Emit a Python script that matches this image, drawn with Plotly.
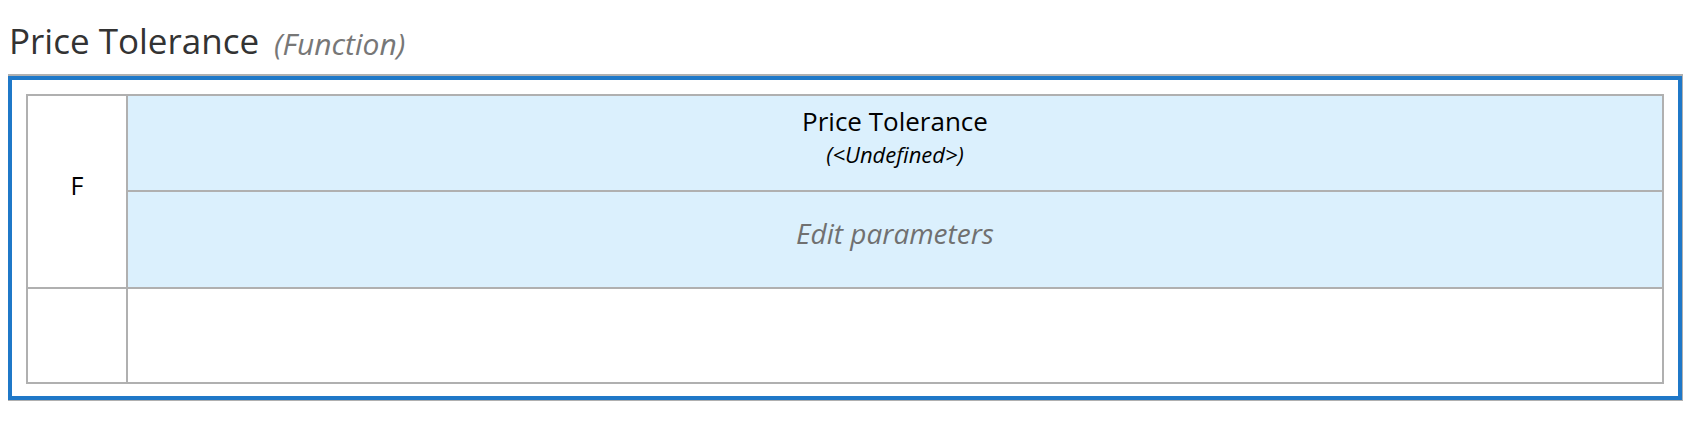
import plotly.graph_objects as go

W, H = 1706, 426

title_main = "Price Tolerance"
title_kind = "(Function)"
hit_policy = "F"
output_name = "Price Tolerance"
output_type = "(<Undefined>)"
param_label = "Edit parameters"

fig = go.Figure()

def rect(x0, y0, x1, y1, line, width, fill="rgba(0,0,0,0)"):
    fig.add_shape(type="rect", x0=x0, y0=y0, x1=x1, y1=y1, xref="x", yref="y",
                  line=dict(color=line, width=width), fillcolor=fill, layer="below")

# outer container
rect(0, 67, 1674, 392, "#b0b0b0", 2)
rect(2, 70, 1672, 390, "#1f78c8", 4)
# header cells (light blue)
rect(119, 87, 1655, 280, "#b0b0b0", 2, "#dbf0fd")
rect(119, 183, 1655, 280, "#b0b0b0", 2, "#dbf0fd")
# hit policy column and rule row
rect(19, 87, 119, 280, "#b0b0b0", 2)
rect(19, 280, 119, 375, "#b0b0b0", 2)
rect(119, 280, 1655, 375, "#b0b0b0", 2)

cx = (119 + 1655) / 2
fig.add_trace(go.Scatter(
    x=[1, 266, 69, cx, cx, cx],
    y=[37, 39, 181, 116, 149, 229],
    mode="text",
    text=[title_main, "<i>" + title_kind + "</i>", hit_policy, output_name,
          "<i>" + output_type + "</i>", "<i>" + param_label + "</i>"],
    textposition=["middle right", "middle right", "middle center", "middle center",
                  "middle center", "middle center"],
    textfont=dict(family="Open Sans",
                  size=[35, 30, 25, 26, 22, 28],
                  color=["#333333", "#777777", "#000000", "#000000", "#000000", "#707070"]),
    hoverinfo="skip",
))

fig.update_layout(
    width=W, height=H, margin=dict(l=0, r=0, t=0, b=0),
    paper_bgcolor="white", plot_bgcolor="white", showlegend=False,
    xaxis=dict(range=[0, W], visible=False, fixedrange=True),
    yaxis=dict(range=[H, 0], visible=False, fixedrange=True),
)

fig.write_html("out.html")
